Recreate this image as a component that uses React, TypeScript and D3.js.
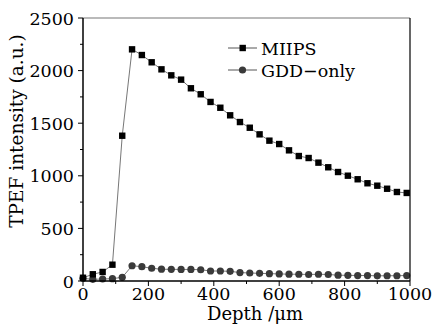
import React from 'react';
import * as d3 from 'd3';

const width = 432;
const height = 332;
const margin = { top: 18, right: 22, bottom: 51, left: 83 };

const depths = [0, 30, 60, 90, 120, 150, 180, 210, 240, 270, 300, 330, 360, 390, 420, 450, 480,
  510, 540, 570, 600, 630, 660, 690, 720, 750, 780, 810, 840, 870, 900, 930, 960, 990];
const miips = [31, 64, 86, 155, 1381, 2202, 2148, 2079, 2012, 1955, 1914, 1832, 1775, 1702, 1647,
  1575, 1511, 1457, 1394, 1334, 1302, 1242, 1188, 1169, 1125, 1081, 1036, 1001, 967, 929, 906,
  877, 846, 837];
const gddOnly = [25, 16, 19, 22, 35, 145, 136, 121, 112, 111, 110, 110, 107, 95, 95, 92, 80, 76,
  73, 70, 67, 65, 64, 62, 64, 62, 55, 54, 52, 52, 49, 50, 50, 52];
const xTicks = [0, 200, 400, 600, 800, 1000];
const xMinor = [100, 300, 500, 700, 900];
const yTicks = [0, 500, 1000, 1500, 2000, 2500];
const yMinor = [250, 750, 1250, 1750, 2250];

const font = '"DejaVu Serif", serif';
const fs = 17.5;

export default function App() {
  const x = d3.scaleLinear().domain([0, 1000]).range([margin.left, width - margin.right]);
  const y = d3.scaleLinear().domain([0, 2500]).range([height - margin.bottom, margin.top]);
  const line = d3.line<number>().x((d, i) => x(depths[i])).y(d => y(d));
  const x0 = x(0), x1 = x(1000), y0 = y(0), y1 = y(2500);

  return (
    <svg width={width} height={height} style={{ position: 'absolute', left: 0, top: 0, background: '#fff' }}>
      <path d={line(gddOnly) || ''} fill="none" stroke="#777" strokeWidth={1} />
      <path d={line(miips) || ''} fill="none" stroke="#777" strokeWidth={1} />
      {gddOnly.map((v, i) => (
        <circle key={'g' + i} cx={x(depths[i])} cy={y(v)} r={3.6} fill="#3a3a3a" />
      ))}
      {miips.map((v, i) => (
        <rect key={'m' + i} x={x(depths[i]) - 3.2} y={y(v) - 3.2} width={6.4} height={6.4} fill="#000" />
      ))}

      {/* frame */}
      <line x1={x0} x2={x1} y1={y1} y2={y1} stroke="#777" strokeWidth={1.2} />
      <line x1={x1} x2={x1} y1={y1} y2={y0} stroke="#000" strokeWidth={1.2} />
      <line x1={x0} x2={x0} y1={y1} y2={y0} stroke="#000" strokeWidth={1.5} />
      <line x1={x0} x2={x1} y1={y0} y2={y0} stroke="#000" strokeWidth={1.5} />

      {xTicks.map(t => (
        <g key={'xt' + t}>
          <line x1={x(t)} x2={x(t)} y1={y0} y2={y0 + 5} stroke="#000" strokeWidth={1} />
          <text x={x(t)} y={y0 + 19} textAnchor="middle" fontFamily={font} fontSize={fs}>{t}</text>
        </g>
      ))}
      {xMinor.map(t => (
        <line key={'xm' + t} x1={x(t)} x2={x(t)} y1={y0} y2={y0 + 3} stroke="#000" strokeWidth={1} />
      ))}
      {yTicks.map(t => (
        <g key={'yt' + t}>
          <line x1={x0 - 5} x2={x0} y1={y(t)} y2={y(t)} stroke="#000" strokeWidth={1} />
          <text x={x0 - 9} y={y(t) + 6.5} textAnchor="end" fontFamily={font} fontSize={fs}>{t}</text>
        </g>
      ))}
      {yMinor.map(t => (
        <line key={'ym' + t} x1={x0 - 3} x2={x0} y1={y(t)} y2={y(t)} stroke="#000" strokeWidth={1} />
      ))}

      <text x={255} y={320} textAnchor="middle" fontFamily={font} fontSize={18}>Depth /μm</text>
      <text transform={`translate(23, 131) rotate(-90)`} textAnchor="middle" fontFamily={font} fontSize={18.5}>
        TPEF intensity (a.u.)
      </text>

      {/* legend */}
      <g>
        <line x1={228} x2={257} y1={48} y2={48} stroke="#555" strokeWidth={1} />
        <rect x={239.5} y={44.8} width={6.4} height={6.4} fill="#000" />
        <text x={261} y={54.5} fontFamily={font} fontSize={fs}>MIIPS</text>
        <line x1={228} x2={257} y1={70} y2={70} stroke="#555" strokeWidth={1} />
        <circle cx={242.5} cy={70} r={3.6} fill="#3a3a3a" />
        <text x={261} y={76.5} fontFamily={font} fontSize={fs}>GDD−only</text>
      </g>
    </svg>
  );
}
